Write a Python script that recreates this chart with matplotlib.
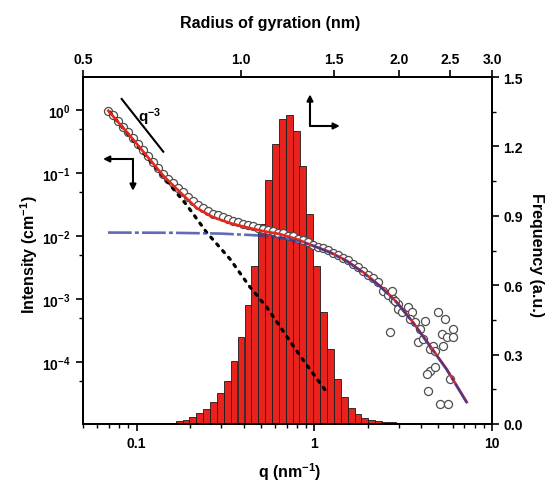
import numpy as np
import matplotlib
matplotlib.use("Agg")
import matplotlib.pyplot as plt
from matplotlib.ticker import LogLocator, FixedLocator, MultipleLocator, NullFormatter, FormatStrFormatter, NullLocator

# ---------------- data ----------------
# size distribution histogram (top axis: radius of gyration, right axis: frequency)
rg_centers = [0.717, 0.739, 0.762, 0.785, 0.809, 0.834, 0.859, 0.886, 0.913, 0.941,
              0.969, 0.999, 1.030, 1.061, 1.094, 1.127, 1.162, 1.197, 1.234, 1.272,
              1.310, 1.351, 1.392, 1.434, 1.478, 1.524, 1.570, 1.618, 1.668, 1.719,
              1.772, 1.826, 1.882, 1.939, 1.999, 2.060, 2.123]
freq = [0.004, 0.006, 0.012, 0.018, 0.030, 0.046, 0.065, 0.095, 0.132, 0.187,
        0.272, 0.377, 0.514, 0.684, 0.866, 1.055, 1.210, 1.317, 1.336, 1.268,
        1.115, 0.908, 0.684, 0.485, 0.325, 0.195, 0.118, 0.070, 0.045, 0.028,
        0.018, 0.012, 0.009, 0.007, 0.005, 0.004, 0.003]

# SAXS data (bottom axis q, left axis intensity)
q_data = [0.0691, 0.0737, 0.0787, 0.0839, 0.0896, 0.0955, 0.1019, 0.1087, 0.1160, 0.1238,
          0.1321, 0.1409, 0.1503, 0.1604, 0.1711, 0.1825, 0.1947, 0.2077, 0.2216, 0.2365,
          0.2523, 0.2691, 0.2871, 0.3063, 0.3268, 0.3487, 0.3720, 0.3969, 0.4234, 0.4517,
          0.4819, 0.5141, 0.5485, 0.5852, 0.6243, 0.6661, 0.7106, 0.7581, 0.8088, 0.8629,
          0.9206, 0.9822, 1.0479, 1.1179, 1.1927, 1.2724, 1.3575, 1.4483, 1.5451, 1.6485,
          1.7587, 1.8763, 2.0018, 2.1356, 2.2784, 2.4308, 2.5933, 2.7668, 2.9518,
          2.728, 2.847, 2.971, 3.105, 3.382, 3.534, 3.457, 3.688, 3.934, 4.200,
          3.849, 4.108, 2.668, 4.479, 4.674, 4.987, 5.440, 5.212, 5.561, 6.058,
          6.058, 5.321, 4.778, 4.479, 4.778, 4.291, 4.381, 5.098, 5.677, 5.803]
I_data = [0.971, 0.824, 0.662, 0.532, 0.443, 0.356, 0.286, 0.2298, 0.1846, 0.1483,
          0.1192, 0.0957, 0.0797, 0.0689, 0.0574, 0.0496, 0.0413, 0.0357, 0.0309, 0.0277,
          0.0248, 0.0222, 0.0214, 0.0199, 0.0185, 0.0172, 0.0166, 0.01543, 0.01488, 0.01435,
          0.01334, 0.01286, 0.01241, 0.01196, 0.01112, 0.01112, 0.00996, 0.00996, 0.00893, 0.00861,
          0.00800, 0.00717, 0.00667, 0.00643, 0.00598, 0.00536, 0.00498, 0.00446, 0.00415, 0.00359,
          0.00321, 0.00278, 0.00240, 0.00215, 0.00186, 0.001339, 0.001157, 0.001000, 0.000833,
          0.001354, 0.000940, 0.000694, 0.000615, 0.000739, 0.000615, 0.000482, 0.000427, 0.000335, 0.000453,
          0.000206, 0.000232, 0.000297, 0.000161, 0.000182, 0.000615, 0.000482, 0.000279, 0.000247, 0.000335,
          0.000247, 0.000182, 0.0001516, 7.31e-5, 8.27e-5, 6.48e-5, 3.52e-5, 2.17e-5, 2.17e-5, 5.40e-5]

# total fit (red)
q_fit = [0.0694, 0.0919, 0.1141, 0.1415, 0.1757, 0.2181, 0.269, 0.336, 0.417, 0.5148,
         0.641, 0.797, 0.984, 1.226, 1.522, 1.88, 2.34, 2.91, 3.59, 4.48, 5.56, 7.21]
I_fit = [0.964, 0.387, 0.1866, 0.0899, 0.0496, 0.0277, 0.0199, 0.0160, 0.01369, 0.01196,
         0.01072, 0.00893, 0.00699, 0.00556, 0.00405, 0.00268, 0.001624, 0.000896, 0.000432, 0.000182,
         7.77e-5, 2.33e-5]

# particle (Guinier) contribution (blue)
q_part = [0.0691, 0.1563, 0.2987, 0.5016, 0.7026, 0.984, 1.226, 1.522, 1.88, 2.34,
          2.91, 3.59, 4.48, 5.56, 7.21]
I_part = [0.01132, 0.01124, 0.01091, 0.01015, 0.00910, 0.00705, 0.00546, 0.00397, 0.00263, 0.001595,
          0.000880, 0.000424, 0.0001786, 7.63e-5, 2.29e-5]

# power-law contribution (dotted)
q_pow = [0.0707, 0.1916, 0.248, 0.336, 0.435, 0.540, 0.832, 1.175]
I_pow = [0.920, 0.0309, 0.01140, 0.00430, 0.001549, 0.000747, 0.0001263, 3.36e-5]

q_ticks = [0.1, 1, 10]
q_ticklabels = ['0.1', '1', '10']
rg_ticks = [0.5, 1.0, 1.5, 2.0, 2.5, 3.0]
freq_ticks = [0.0, 0.3, 0.6, 0.9, 1.2, 1.5]

# ---------------- style ----------------
plt.rcParams['font.family'] = ['Liberation Sans', 'DejaVu Sans']
plt.rcParams['font.weight'] = 'bold'
plt.rcParams['mathtext.fontset'] = 'custom'
plt.rcParams['mathtext.rm'] = 'Liberation Sans:bold'
plt.rcParams['mathtext.it'] = 'Liberation Sans:bold:italic'
plt.rcParams['mathtext.bf'] = 'Liberation Sans:bold'
plt.rcParams['mathtext.default'] = 'rm'

W, H = 558, 489
fig = plt.figure(figsize=(W / 100, H / 100), dpi=100)
L, R, T, B = 83, 492, 78, 425
rect = [L / W, (H - B) / H, (R - L) / W, (B - T) / H]

axh = fig.add_axes(rect, zorder=1)
ax = fig.add_axes(rect, zorder=2)
ax.patch.set_alpha(0)

lab_font = dict(fontsize=11.5, fontweight='bold')

# ---- histogram axes (top / right) ----
c = np.array(rg_centers)
half = np.sqrt(1.0306)
left_e = c / half
right_e = c * half
axh.bar(left_e, freq, width=right_e - left_e, align='edge', color='#e8221d',
        edgecolor='#1a1a1a', linewidth=0.6)
axh.set_xscale('log')
axh.set_xlim(0.5, 3.0)
axh.set_ylim(0, 1.5)
axh.xaxis.tick_top()
axh.yaxis.tick_right()
axh.xaxis.set_major_locator(FixedLocator(rg_ticks))
axh.xaxis.set_minor_locator(NullLocator())
axh.xaxis.set_major_formatter(FormatStrFormatter('%.1f'))
axh.xaxis.set_minor_formatter(NullFormatter())
axh.yaxis.set_major_locator(FixedLocator(freq_ticks))
axh.yaxis.set_minor_locator(MultipleLocator(0.15))
axh.yaxis.set_major_formatter(FormatStrFormatter('%.1f'))
axh.tick_params(axis='x', which='major', direction='out', length=5, width=1.2, pad=3, labelsize=10)
axh.tick_params(axis='y', which='major', direction='out', length=5, width=1.2, pad=3, labelsize=10)
axh.tick_params(axis='y', which='minor', direction='out', length=3, width=1.0)
axh.set_xlabel('Radius of gyration (nm)', **lab_font)
axh.xaxis.set_label_position('top')
axh.xaxis.set_label_coords(0.457, 1.145)
axh.set_ylabel('Frequency (a.u.)', rotation=270, **lab_font)
axh.yaxis.set_label_position('right')
axh.yaxis.set_label_coords(1.127, 0.49)
for s in axh.spines.values():
    s.set_linewidth(1.4)

# ---- SAXS axes (bottom / left) ----
ax.plot(q_data, I_data, 'o', mfc='white', mec='#4d4d4d', mew=0.9, ms=5.8, zorder=3)
ax.plot(q_pow, I_pow, color='black', lw=2.3, ls=(0, (0.8, 2.0)), dash_capstyle='round', zorder=4)
ax.plot(q_fit, I_fit, color='#e8261c', lw=1.9, zorder=5)
ax.plot(q_part, I_part, color='#2b3aa0', lw=1.9, alpha=0.75, ls=(0, (9, 1.2, 1.5, 1.2)), zorder=6)

ax.set_xscale('log')
ax.set_yscale('log')
ax.set_xlim(0.05, 10)
ax.set_ylim(1.05e-5, 3.3)
ax.set_xticks(q_ticks)
ax.set_xticklabels(q_ticklabels)
ax.xaxis.set_minor_locator(LogLocator(base=10, subs=np.arange(2, 10)))
ax.xaxis.set_minor_formatter(NullFormatter())
ax.yaxis.set_major_locator(LogLocator(base=10, numticks=10))
ax.yaxis.set_minor_locator(LogLocator(base=10, subs=(5.0,), numticks=10))
ax.yaxis.set_minor_formatter(NullFormatter())
ax.tick_params(which='major', direction='out', length=5, width=1.2, labelsize=10)
ax.tick_params(which='minor', direction='out', length=3, width=1.0)
ax.tick_params(axis='x', pad=4)
ax.tick_params(axis='y', pad=4)
ax.set_xlabel(r'$q$ (nm$^{-1}$)', **lab_font)
ax.xaxis.set_label_coords(0.506, -0.105)
ax.set_ylabel(r'Intensity (cm$^{-1}$)', **lab_font)
ax.yaxis.set_label_coords(-0.105, 0.49)
for s in ax.spines.values():
    s.set_linewidth(1.4)

# guide line and label
ax.plot([0.0946, 0.1963], [0.9366, 0.7847], transform=ax.transAxes, color='black', lw=1.5, zorder=7)
ax.text(0.164, 0.887, r'$q^{-3}$', transform=ax.transAxes, fontsize=11,
        ha='center', va='center', zorder=7)

# axis-indicating arrows
ap = dict(arrowstyle='-|>', color='black', lw=1.5, mutation_scale=9, shrinkA=0, shrinkB=0)
ax.annotate('', xy=(0.0489, 0.7637), xytext=(0.1222, 0.7637), xycoords='axes fraction', arrowprops=ap)
ax.annotate('', xy=(0.1222, 0.672), xytext=(0.1222, 0.7637), xycoords='axes fraction', arrowprops=ap)
ax.annotate('', xy=(0.555, 0.950), xytext=(0.555, 0.8588), xycoords='axes fraction', arrowprops=ap)
ax.annotate('', xy=(0.628, 0.8588), xytext=(0.555, 0.8588), xycoords='axes fraction', arrowprops=ap)

fig.savefig('out.png', dpi=100)
